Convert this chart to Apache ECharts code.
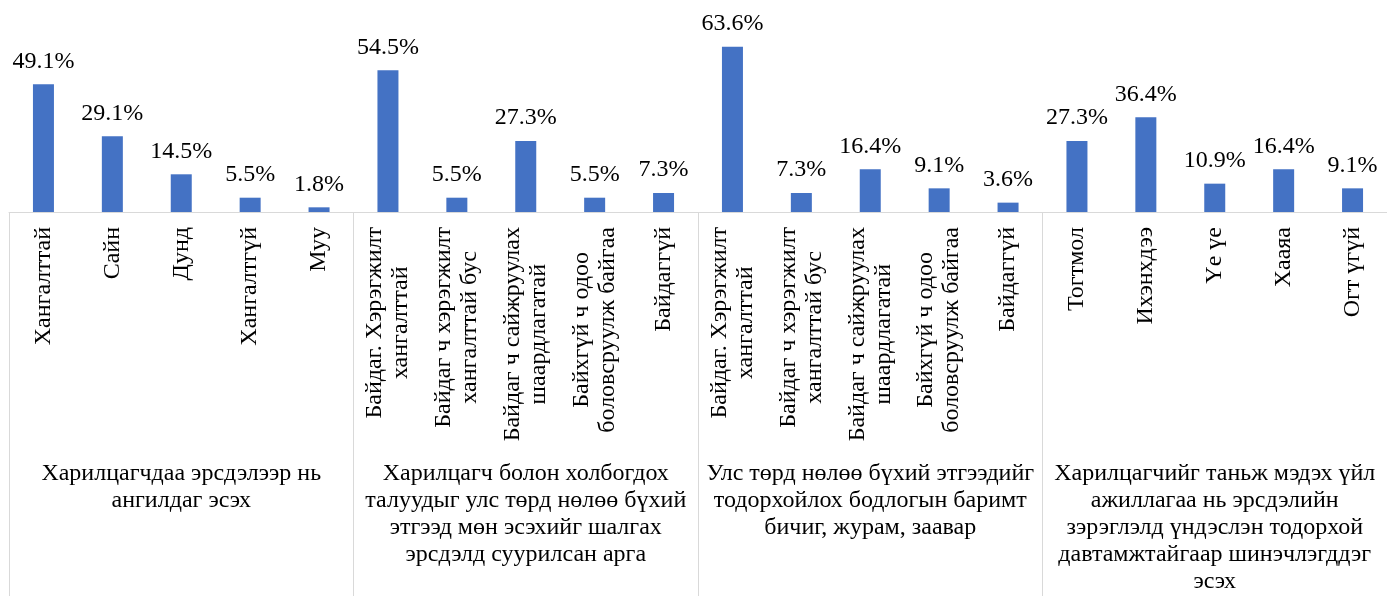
<!DOCTYPE html>
<html lang="mn">
<head>
    <meta charset="UTF-8">
    <title>Chart</title>
    <script src="https://cdn.jsdelivr.net/npm/echarts@6/dist/echarts.min.js"></script>
    <style>
        html, body { margin: 0; padding: 0; background: #fff; }
    </style>
</head>
<body>

<div id="main" style="width: 1387px;height:596px;"></div>

</body>
<script>
    // ангиллууд (20 багана, 4 бүлэг)
    var categories = [
        'Хангалттай', 'Сайн', 'Дунд', 'Хангалтгүй', 'Муу',
        'Байдаг. Хэрэгжилт\nхангалттай', 'Байдаг ч хэрэгжилт\nхангалттай бус', 'Байдаг ч сайжруулах\nшаардлагатай', 'Байхгүй ч одоо\nболовсруулж байгаа', 'Байдаггүй',
        'Байдаг. Хэрэгжилт\nхангалттай', 'Байдаг ч хэрэгжилт\nхангалттай бус', 'Байдаг ч сайжруулах\nшаардлагатай', 'Байхгүй ч одоо\nболовсруулж байгаа', 'Байдаггүй',
        'Тогтмол', 'Ихэнхдээ', 'Үе үе', 'Хааяа', 'Огт үгүй'
    ];
    // хувь (%)
    var values = [
        49.1, 29.1, 14.5, 5.5, 1.8,
        54.5, 5.5, 27.3, 5.5, 7.3,
        63.6, 7.3, 16.4, 9.1, 3.6,
        27.3, 36.4, 10.9, 16.4, 9.1
    ];
    var groups = [
        'Харилцагчдаа эрсдэлээр нь\nангилдаг эсэх',
        'Харилцагч болон холбогдох\nталуудыг улс төрд нөлөө бүхий\nэтгээд мөн эсэхийг шалгах\nэрсдэлд суурилсан арга',
        'Улс төрд нөлөө бүхий этгээдийг\nтодорхойлох бодлогын баримт\nбичиг, журам, заавар',
        'Харилцагчийг таньж мэдэх үйл\nажиллагаа нь эрсдэлийн\nзэрэглэлд үндэслэн тодорхой\nдавтамжтайгаар шинэчлэгддэг\nэсэх'
    ];

    var font = "'Liberation Serif', 'Times New Roman', serif";
    var fs = 24;

    var mychart = echarts.init(document.getElementById('main'));

    var option = {
        animation: false,
        grid: {
            left: 9,
            right: -6,
            top: 30,
            bottom: 384
        },
        xAxis: [
            {
                type: 'category',
                data: categories,
                axisLine: {lineStyle: {color: '#d9d9d9', width: 1}},
                axisTick: {show: false},
                axisLabel: {
                    interval: 0,
                    rotate: 90,
                    margin: 15,
                    //мөр бүрийг голлуулна
                    formatter: function (v) {
                        return v.split('\n').map(function (s) {
                            return '{c|' + s + '}';
                        }).join('\n');
                    },
                    rich: {
                        c: {
                            align: 'center',
                            fontFamily: font,
                            fontSize: fs,
                            lineHeight: 26,
                            color: '#000'
                        }
                    }
                }
            },
            {
                // бүлгийн нэрс + тусгаарлагч шугам
                type: 'category',
                position: 'bottom',
                data: groups,
                axisLine: {show: false},
                axisTick: {
                    show: true,
                    interval: 0,
                    length: 384,
                    lineStyle: {color: '#d9d9d9', width: 1}
                },
                axisLabel: {
                    interval: 0,
                    margin: 248,
                    fontFamily: font,
                    fontSize: fs,
                    lineHeight: 27,
                    color: '#000',
                    align: 'center',
                    verticalAlign: 'top'
                }
            }
        ],
        yAxis: {
            type: 'value',
            min: 0,
            max: 70,
            show: false,
            splitLine: {show: false}
        },
        series: [
            {
                type: 'bar',
                data: values,
                barWidth: 21,
                itemStyle: {color: '#4472c4'},
                label: {
                    show: true,
                    position: 'top',
                    distance: 11,
                    formatter: '{c}%',
                    fontFamily: font,
                    fontSize: fs,
                    color: '#000'
                }
            }
        ]
    };

    mychart.setOption(option);

</script>
</html>
